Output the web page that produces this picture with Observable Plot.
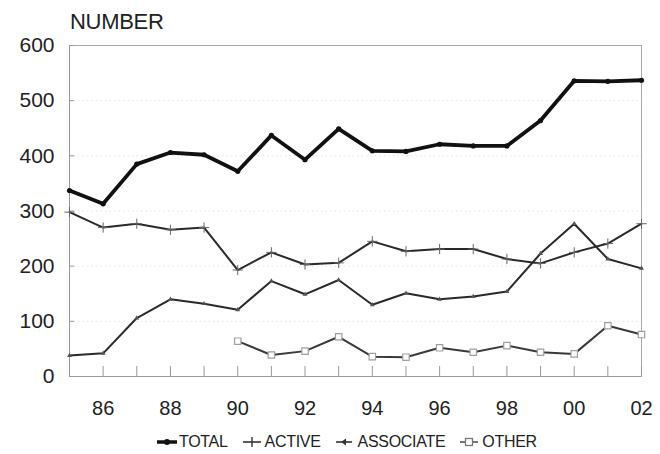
<!DOCTYPE html>
<html>
<head>
<meta charset="utf-8">
<script src="https://cdn.jsdelivr.net/npm/d3@7"></script>
<script src="https://cdn.jsdelivr.net/npm/@observablehq/plot@0.6"></script>
<style>
  body { margin: 0; background: #fff; }
  #wrap { position: relative; width: 660px; height: 454px; font-family: "Liberation Sans", Arial, sans-serif; color: #222; overflow: hidden; }
  #title { position: absolute; left: 70px; top: 9px; font-size: 22px; line-height: 26px; letter-spacing: -0.3px; }
  #chart { position: absolute; left: 0; top: 30px; }
  #legend { position: absolute; left: 156px; top: 433px; display: flex; align-items: center; font-size: 16px; line-height: 18px; letter-spacing: -0.3px; }
  #legend .item { display: flex; align-items: center; margin-right: 14px; }
  #legend svg { margin-right: 1px; }
</style>
</head>
<body>
<div id="wrap">
  <div id="title">NUMBER</div>
  <div id="chart"></div>
  <div id="legend"></div>
</div>
<script>
const years = [1985,1986,1987,1988,1989,1990,1991,1992,1993,1994,1995,1996,1997,1998,1999,2000,2001,2002];
const total     = [337,313,385,406,402,372,437,393,449,409,408,421,418,418,464,536,535,537];
const active    = [298,270,277,266,270,193,225,203,206,245,227,231,231,213,205,225,241,277];
const associate = [38,42,106,140,132,121,173,149,175,130,151,140,145,154,223,277,213,196];
const other     = [null,null,null,null,null,64,39,46,72,36,35,52,44,56,44,41,92,76];
const seriesNames = ["TOTAL","ACTIVE","ASSOCIATE","OTHER"];
const yTicks = [0,100,200,300,400,500,600];
const xTickYears = [1986,1988,1990,1992,1994,1996,1998,2000,2002];

const rows = (vals, name) => years.map((y, i) => ({year: y, value: vals[i], series: name})).filter(d => d.value != null);
const totalRows = rows(total, "TOTAL");
const activeRows = rows(active, "ACTIVE");
const assocRows = rows(associate, "ASSOCIATE");
const otherRows = rows(other, "OTHER");

const W = 660, H = 396, mL = 69, mR = 19, mT = 15, mB = 50;
const plotW = W - mL - mR, plotH = H - mT - mB;

const chart = Plot.plot({
  width: W, height: H,
  marginLeft: mL, marginRight: mR, marginTop: mT, marginBottom: mB,
  style: {fontFamily: "'Liberation Sans', Arial, sans-serif", color: "#222", background: "#fff", overflow: "visible"},
  x: {domain: [1985, 2002]},
  y: {domain: [0, 600]},
  marks: [
    Plot.gridY(yTicks.slice(1, -1), {stroke: "#c8c8c8", strokeOpacity: 0.5, strokeDasharray: "1.5,3"}),
    Plot.frame({stroke: "#a8a8a8", strokeWidth: 1}),
    Plot.ruleY([0], {stroke: "#999"}),
    Plot.ruleX([1985], {stroke: "#999"}),
    Plot.tickX(years, {x: d => d, insetTop: plotH - 10, stroke: "#999"}),
    Plot.tickY(yTicks, {y: d => d, insetRight: plotW - 5, stroke: "#999"}),
    Plot.axisY({ticks: yTicks, tickSize: 0, tickPadding: 15, fontSize: 21, label: null}),
    Plot.axisX({ticks: xTickYears, tickSize: 0, tickPadding: 24, fontSize: 20, label: null,
      tickFormat: d => String(d % 100).padStart(2, "0")}),
    // OTHER
    Plot.line(otherRows, {x: "year", y: "value", stroke: "#3a3a3a", strokeWidth: 2}),
    Plot.dot(otherRows, {x: "year", y: "value", symbol: "square", r: 3.6, stroke: "#a0a0a0", fill: "#fff", strokeWidth: 1.2}),
    // ASSOCIATE
    Plot.line(assocRows, {x: "year", y: "value", stroke: "#2a2a2a", strokeWidth: 2}),
    Plot.dot(assocRows, {x: "year", y: "value", symbol: "triangle", r: 1.8, fill: "#555", stroke: "none"}),
    // ACTIVE
    Plot.line(activeRows, {x: "year", y: "value", stroke: "#2a2a2a", strokeWidth: 2}),
    Plot.dot(activeRows, {x: "year", y: "value", symbol: "plus", r: 3.4, stroke: "#666", strokeWidth: 1}),
    // TOTAL
    Plot.line(totalRows, {x: "year", y: "value", stroke: "#111", strokeWidth: 3.8}),
    Plot.dot(totalRows, {x: "year", y: "value", r: 2.6, fill: "#111"})
  ]
});
document.getElementById("chart").appendChild(chart);

// Legend
const legendSymbols = {
  TOTAL: '<line x1="1" y1="9" x2="21" y2="9" stroke="#111" stroke-width="3.5"/><circle cx="11" cy="9" r="3" fill="#111"/>',
  ACTIVE: '<line x1="1" y1="9" x2="19" y2="9" stroke="#333" stroke-width="1.6"/><line x1="10" y1="4" x2="10" y2="14" stroke="#333" stroke-width="1.4"/>',
  ASSOCIATE: '<line x1="1" y1="9" x2="17" y2="9" stroke="#333" stroke-width="1.6"/><path d="M6,9 L11,5.5 L11,12.5 Z" fill="#333"/>',
  OTHER: '<line x1="1" y1="9" x2="19" y2="9" stroke="#555" stroke-width="1.6"/><rect x="6.5" y="5.5" width="7" height="7" fill="#fff" stroke="#777" stroke-width="1.3"/>'
};
const legend = document.getElementById("legend");
seriesNames.forEach(name => {
  const item = document.createElement("div");
  item.className = "item";
  item.innerHTML = `<svg width="22" height="18">${legendSymbols[name]}</svg><span>${name}</span>`;
  legend.appendChild(item);
});
</script>
</body>
</html>
